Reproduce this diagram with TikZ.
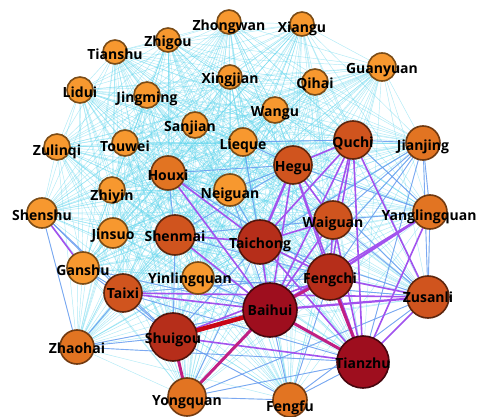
\documentclass[tikz,border=0pt]{standalone}
\usepackage{fontspec}
\setmainfont{Open Sans}
\usepackage{xcolor}

\definecolor{ptA}{RGB}{247,152,47}
\definecolor{ptB}{RGB}{226,116,34}
\definecolor{ptC}{RGB}{208,84,30}
\definecolor{ptD}{RGB}{182,46,26}
\definecolor{ptE}{RGB}{158,14,30}
\definecolor{lnWeak}{RGB}{96,214,238}
\definecolor{lnBlue}{RGB}{104,150,240}
\definecolor{lnPurple}{RGB}{162,82,238}
\definecolor{lnMag}{RGB}{192,32,132}
\definecolor{lnRed}{RGB}{200,6,22}

% name / x / y / diameter / style / label dx / label dy
\def\ptlist{Zhongwan/229/22/24/ta/0/5, Xiangu/302/24/24/ta/0/5,
  Zhigou/168/40/24/ta/0/3, Tianshu/115/52/24/ta/0/2,
  Guanyuan/382/67/28/ta/0/3, Xingjian/230/77/24/ta/0/3,
  Qihai/315/82/26/ta/0/2, Lidui/80/90/26/ta/0/2,
  Jingming/147/95/26/ta/0/4, Wangu/275/110/26/ta/0/3,
  Sanjian/195/125/26/ta/-5/3, Zulinqi/57/147/26/ta/0/5,
  Touwei/125/143/26/ta/0/3, Lieque/243/142/28/ta/0/4,
  Quchi/353/140/38/tc/0/3, Jianjing/423/143/34/tb/0/4,
  Hegu/293/165/38/tc/0/3, Houxi/168/173/34/tb/0/2,
  Neiguan/230/190/32/ta/0/5, Zhiyin/112/190/26/ta/0/7,
  Shenshu/42/213/30/ta/0/2, Waiguan/333/220/38/tc/0/4,
  Yanglingquan/430/212/34/tb/-1/5, Jinsuo/113/233/30/ta/0/3,
  Shenmai/175/235/40/tc/0/1, Taichong/260/242/44/td/0/3,
  Ganshu/83/268/32/ta/0/2, Yinlingquan/198/278/32/ta/-8/2,
  Fengchi/330/277/46/td/0/3, Taixi/123/293/38/tc/0/0,
  Zusanli/428/297/42/tc/0/0, Baihui/270/310/54/te/0/0,
  Shuigou/173/337/48/td/0/3, Zhaohai/77/347/34/tb/0/1,
  Tianzhu/363/362/52/te/0/1, Yongquan/187/397/38/tb/0/5,
  Fengfu/290/400/34/tb/0/8}

\begin{document}
\begin{tikzpicture}[x=1pt, y=-1pt,
    every node/.style={font=\fontsize{14}{14}\selectfont\bfseries},
    pt/.style={circle, draw, line width=1.6pt, inner sep=0pt},
    ta/.style={pt, fill=ptA, draw=ptA!50!black},
    tb/.style={pt, fill=ptB, draw=ptB!50!black},
    tc/.style={pt, fill=ptC, draw=ptC!45!black},
    td/.style={pt, fill=ptD, draw=ptD!45!black},
    te/.style={pt, fill=ptE, draw=ptE!45!black},
    lbl/.style={inner sep=0pt, text=black},
    weak/.style={lnWeak, line width=0.45pt, opacity=0.5},
    blue/.style={lnBlue, line width=0.9pt, opacity=0.8},
    purple/.style={lnPurple, line width=1.6pt},
    mag/.style={lnMag, line width=3pt},
    strong/.style={lnRed, line width=4.5pt}]
  \useasboundingbox (0,0) rectangle (482,417);
  \clip (0,0) rectangle (482,417);
  \fill[white] (0,0) rectangle (482,417);

  % --- punkty ---
  \foreach \n/\x/\y/\d/\s/\dx/\dy in \ptlist
    \coordinate (\n) at (\x,\y);

  % --- slabe polaczenia: kazdy z kazdym ---
  \foreach \a/\xa/\ya/\da/\sa/\ua/\va [count=\i] in \ptlist {
    \foreach \b/\xb/\yb/\db/\sb/\ub/\vb [count=\j] in \ptlist {
      \ifnum\j>\i \draw[weak] (\a) -- (\b); \fi
    }
  }

  % --- srednie polaczenia ---
  \foreach \a/\b in {Shenshu/Zhaohai, Shenshu/Taixi, Shenshu/Shuigou,
      Zhaohai/Shuigou, Zhaohai/Baihui, Zhaohai/Tianzhu, Zhaohai/Taixi,
      Ganshu/Taixi, Ganshu/Shuigou, Ganshu/Baihui, Taixi/Shuigou,
      Taixi/Tianzhu, Taixi/Fengchi, Yongquan/Tianzhu, Yongquan/Fengfu,
      Yongquan/Zusanli, Fengfu/Baihui, Fengfu/Tianzhu, Fengfu/Shuigou,
      Fengfu/Fengchi, Shenmai/Shuigou, Shenmai/Fengchi, Shenmai/Hegu,
      Houxi/Hegu, Houxi/Fengchi, Houxi/Shenmai, Neiguan/Taichong,
      Neiguan/Baihui, Neiguan/Hegu, Lieque/Hegu, Lieque/Quchi,
      Lieque/Taichong, Yinlingquan/Baihui, Yinlingquan/Zusanli,
      Jianjing/Waiguan, Jianjing/Fengchi, Jianjing/Taichong,
      Jianjing/Baihui, Jianjing/Tianzhu, Jianjing/Yanglingquan,
      Jianjing/Zusanli, Quchi/Jianjing, Quchi/Yanglingquan,
      Waiguan/Yanglingquan, Waiguan/Zusanli, Taichong/Zusanli,
      Hegu/Yanglingquan, Hegu/Zusanli, Waiguan/Shenmai,
      Taichong/Shuigou, Taichong/Yongquan, Zusanli/Yanglingquan,
      Zusanli/Fengfu}
    \draw[blue] (\a) -- (\b);

  % --- mocne polaczenia ---
  \foreach \a/\b in {Hegu/Baihui, Hegu/Quchi, Hegu/Waiguan, Hegu/Fengchi,
      Hegu/Tianzhu, Quchi/Waiguan, Quchi/Fengchi, Quchi/Baihui,
      Quchi/Tianzhu, Quchi/Zusanli, Quchi/Taichong, Yanglingquan/Tianzhu,
      Yanglingquan/Baihui, Zusanli/Tianzhu, Zusanli/Fengchi,
      Taichong/Baihui, Taichong/Fengchi, Taichong/Tianzhu,
      Shenmai/Taichong, Shenmai/Baihui, Houxi/Taichong, Houxi/Baihui,
      Shenshu/Ganshu, Taixi/Baihui, Taixi/Zusanli, Shuigou/Tianzhu,
      Shuigou/Fengchi, Waiguan/Fengchi, Waiguan/Baihui, Waiguan/Tianzhu,
      Waiguan/Taichong}
    \draw[purple] (\a) -- (\b);
  \draw[purple, line width=2.4pt] (Hegu) -- (Taichong);
  \draw[purple, line width=2.4pt] (Yanglingquan) -- (Fengchi);
  \draw[purple, line width=2.2pt] (Zusanli) -- (Baihui);

  \foreach \a/\b in {Baihui/Tianzhu, Baihui/Fengchi, Baihui/Yongquan,
      Shuigou/Yongquan, Fengchi/Tianzhu}
    \draw[mag] (\a) -- (\b);
  \draw[strong] (Baihui) -- (Shuigou);

  % --- wezly i podpisy ---
  \foreach \n/\x/\y/\d/\s/\dx/\dy in \ptlist
    \node[\s, minimum size=\d pt] (\n-c) at (\n) {};
  \foreach \n/\x/\y/\d/\s/\dx/\dy in \ptlist
    \node[lbl] (\n-l) at ([shift={(\dx,\dy)}]\n) {\n};
\end{tikzpicture}
\end{document}
